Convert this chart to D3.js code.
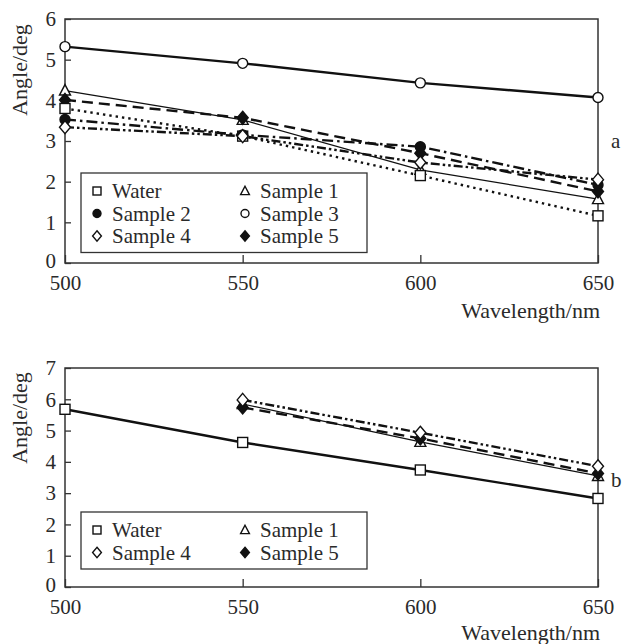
<!DOCTYPE html>
<html><head><meta charset="utf-8">
<script src="https://cdn.jsdelivr.net/npm/d3@7"></script>
<style>body{margin:0;background:#fff}svg{display:block}text{font-family:"Liberation Serif","Times New Roman",serif;fill:#2a2a2a}</style>
</head><body><svg id="c" width="622" height="644"></svg>
<script>
const wavelengths = [500, 550, 600, 650];
const xTicks = [500, 550, 600, 650];
const yTicksA = [0, 1, 2, 3, 4, 5, 6];
const yTicksB = [0, 1, 2, 3, 4, 5, 6, 7];

// Panel a values
const aWater   = [3.80, 3.12, 2.15, 1.16];
const aSample1 = [4.24, 3.52, 2.29, 1.57];
const aSample2 = [3.53, 3.15, 2.86, 1.92];
const aSample3 = [5.32, 4.91, 4.43, 4.07];
const aSample4 = [3.34, 3.12, 2.47, 2.05];
const aSample5 = [4.01, 3.57, 2.70, 1.76];

// Panel b values (null = not measured)
const bWater   = [5.68, 4.62, 3.74, 2.83];
const bSample1 = [null, 5.85, 4.64, 3.55];
const bSample4 = [null, 5.98, 4.93, 3.86];
const bSample5 = [null, 5.74, 4.75, 3.63];

const svg = d3.select("#c");
const left = 65, right = 598;

const styles = {
  "Water":   {sym: "square", fill: "#fff"},
  "Sample 1":{sym: "triangle", fill: "#fff"},
  "Sample 2":{sym: "circle", fill: "#111"},
  "Sample 3":{sym: "circle", fill: "#fff"},
  "Sample 4":{sym: "diamond", fill: "#fff"},
  "Sample 5":{sym: "diamond", fill: "#111"}
};

function marker(g, sym, fill, x, y, scale) {
  scale = scale || 1;
  let s;
  if (sym === "square") s = g.append("rect").attr("x", x-5*scale).attr("y", y-5*scale).attr("width", 10*scale).attr("height", 10*scale);
  else if (sym === "circle") s = g.append("circle").attr("cx", x).attr("cy", y).attr("r", 5*scale);
  else if (sym === "triangle") s = g.append("path").attr("d", `M${x},${y-6*scale}L${x+5.5*scale},${y+4.5*scale}L${x-5.5*scale},${y+4.5*scale}Z`);
  else s = g.append("path").attr("d", `M${x},${y-6.5*scale}L${x+5.5*scale},${y}L${x},${y+6.5*scale}L${x-5.5*scale},${y}Z`);
  s.attr("fill", fill).attr("stroke", "#111").attr("stroke-width", 1.4);
}

function panel(cfg) {
  const x = d3.scaleLinear().domain([500, 650]).range([left, right]);
  const y = d3.scaleLinear().domain([0, cfg.ymax]).range([cfg.bottom, cfg.top]);
  const g = svg.append("g");
  g.append("rect").attr("x", left).attr("y", cfg.top).attr("width", right-left).attr("height", cfg.bottom-cfg.top)
    .attr("fill", "none").attr("stroke", "#333").attr("stroke-width", 1.5);
  const ax = g.append("g").attr("transform", `translate(0,${cfg.bottom})`)
    .call(d3.axisBottom(x).tickValues(xTicks).tickSize(-8).tickPadding(12).tickFormat(d3.format("d")));
  ax.select(".domain").remove();
  ax.selectAll("line").attr("stroke", "#333").attr("stroke-width", 1.3);
  ax.selectAll("text").attr("font-size", 21).attr("fill", "#2a2a2a");
  const ay = g.append("g").attr("transform", `translate(${left},0)`)
    .call(d3.axisLeft(y).tickValues(cfg.yTicks).tickSize(-6).tickPadding(9).tickFormat(d3.format("d")));
  ay.select(".domain").remove();
  ay.selectAll("line").attr("stroke", "#333").attr("stroke-width", 1.3);
  ay.selectAll("text").attr("font-size", 21).attr("fill", "#2a2a2a");
  ay.selectAll(".tick").filter(d => d === 0).select("text").attr("dy", "0.2em");

  g.append("text").attr("transform", `translate(27,${cfg.ylabY}) rotate(-90)`).attr("text-anchor", "middle")
    .attr("font-size", 22).text("Angle/deg");
  g.append("text").attr("x", 600).attr("y", cfg.xlabY).attr("text-anchor", "end").attr("font-size", 22).text("Wavelength/nm");
  g.append("text").attr("x", 611).attr("y", cfg.tagY).attr("font-size", 21).text(cfg.tag);

  const lg = g.append("g");
  lg.append("rect").attr("x", 81).attr("y", cfg.legTop).attr("width", 286).attr("height", cfg.legRows*22.5+12)
    .attr("fill", "#fff").attr("stroke", "#333").attr("stroke-width", 1.3);

  const line = d3.line().defined(d => d.v !== null).x(d => x(d.w)).y(d => y(d.v));
  cfg.series.forEach(s => {
    const pts = wavelengths.map((w, i) => ({w, v: s.values[i]}));
    g.append("path").datum(pts).attr("d", line).attr("fill", "none").attr("stroke", "#111")
      .attr("stroke-width", s.width).attr("stroke-dasharray", s.dash || null).attr("stroke-linecap", "butt");
  });
  cfg.series.forEach(s => {
    const st = styles[s.name];
    wavelengths.forEach((w, i) => { if (s.values[i] !== null) marker(g, st.sym, st.fill, x(w), y(s.values[i])); });
  });

  cfg.legend.forEach((name, i) => {
    const col = i % 2, row = Math.floor(i / 2);
    const cx = col === 0 ? 97 : 245;
    const cy = cfg.legTop + 18 + row * 22.5;
    const st = styles[name];
    marker(lg, st.sym, st.fill, cx, cy, 0.8);
    lg.append("text").attr("x", cx + 15).attr("y", cy + 7).attr("font-size", 21).text(name);
  });
}

panel({
  top: 19, bottom: 263, ymax: 6, yTicks: yTicksA, ylabY: 70, xlabY: 318, tag: "a", tagY: 148,
  legTop: 173, legRows: 3,
  legend: ["Water", "Sample 1", "Sample 2", "Sample 3", "Sample 4", "Sample 5"],
  series: [
    {name: "Sample 3", values: aSample3, width: 2.4},
    {name: "Sample 1", values: aSample1, width: 1.2},
    {name: "Sample 5", values: aSample5, width: 2.4, dash: "11,6"},
    {name: "Water",    values: aWater,   width: 2.4, dash: "2.4,4"},
    {name: "Sample 2", values: aSample2, width: 2.4, dash: "11,4,2.5,4"},
    {name: "Sample 4", values: aSample4, width: 2.4, dash: "9,3,2.5,3,2.5,3"}
  ]
});

panel({
  top: 368, bottom: 587, ymax: 7, yTicks: yTicksB, ylabY: 418, xlabY: 640, tag: "b", tagY: 487,
  legTop: 512, legRows: 2,
  legend: ["Water", "Sample 1", "Sample 4", "Sample 5"],
  series: [
    {name: "Water",    values: bWater,   width: 2.4},
    {name: "Sample 1", values: bSample1, width: 1.2},
    {name: "Sample 5", values: bSample5, width: 2.4, dash: "11,6"},
    {name: "Sample 4", values: bSample4, width: 2.4, dash: "9,3,2.5,3,2.5,3"}
  ]
});
</script></body></html>
